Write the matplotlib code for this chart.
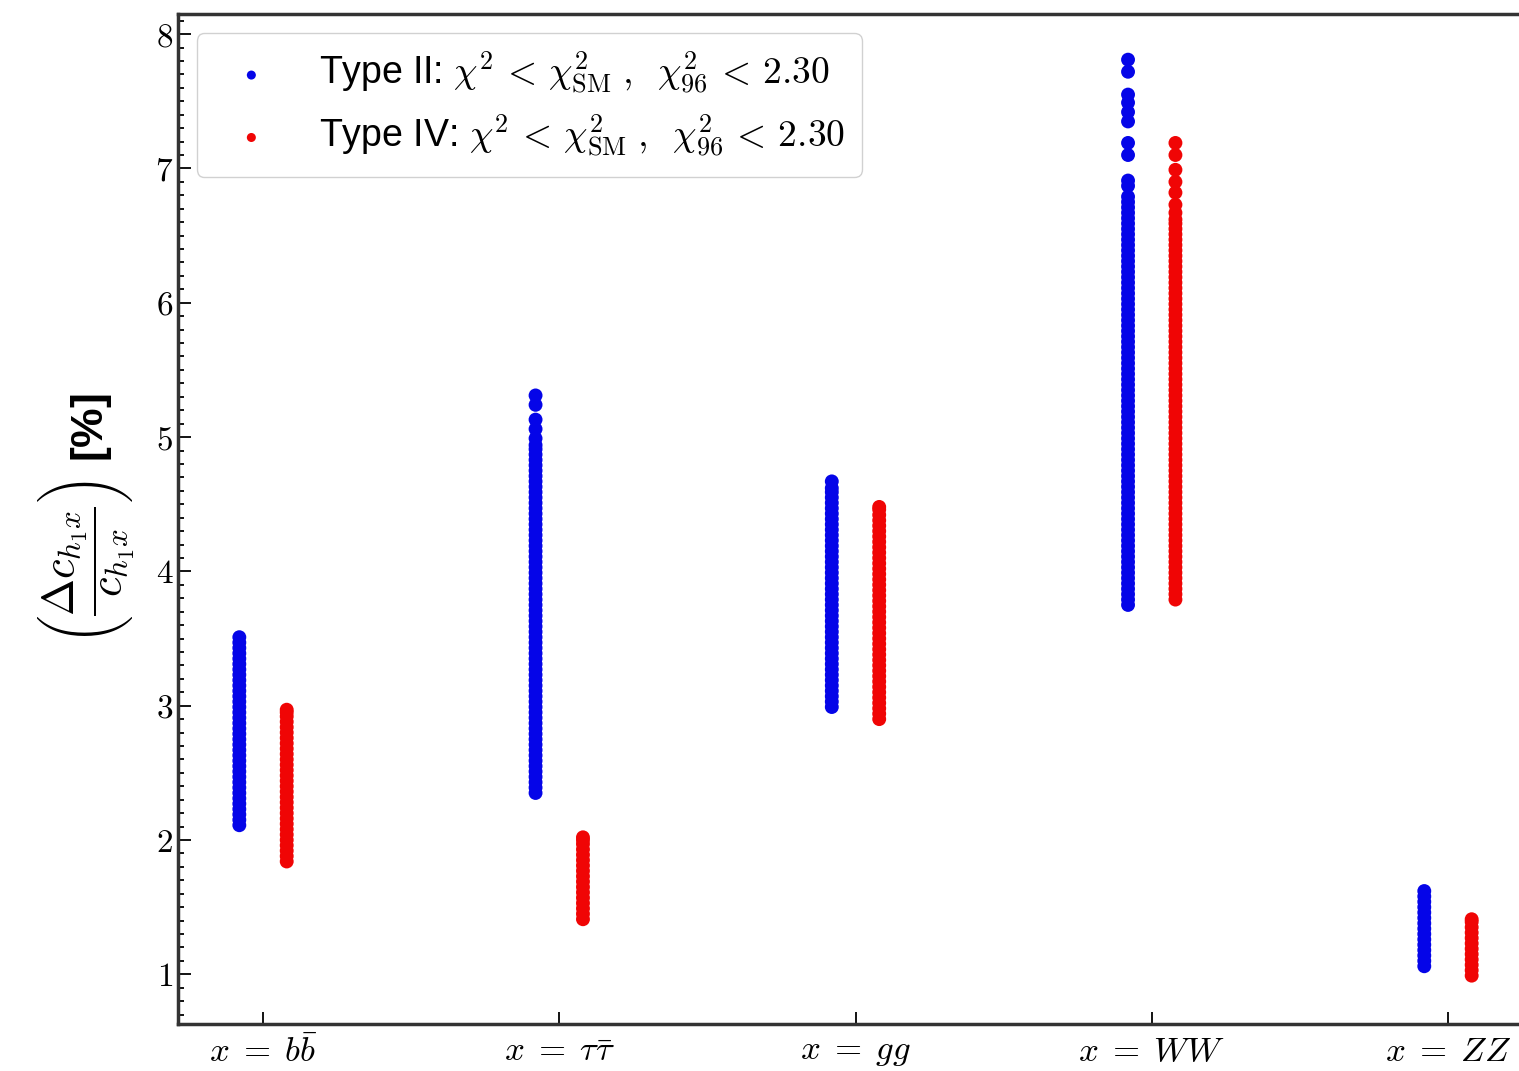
import matplotlib.pyplot as plt
from matplotlib.ticker import MultipleLocator

plt.rcParams['mathtext.fontset'] = 'cm'
plt.rcParams['font.family'] = ['Liberation Sans', 'DejaVu Sans']

# channels on the x axis
channels = [r'$x\;=\;b\bar{b}$', r'$x\;=\;\tau\bar{\tau}$', r'$x\;=\;gg$',
            r'$x\;=\;WW$', r'$x\;=\;ZZ$']

# Type II points, one list per channel
t2_bb = [2.11, 2.15, 2.19, 2.23, 2.27, 2.31, 2.35, 2.39, 2.43, 2.47, 2.51, 2.55, 2.59,
         2.63, 2.67, 2.71, 2.75, 2.79, 2.83, 2.87, 2.91, 2.95, 2.99, 3.03, 3.07, 3.11,
         3.15, 3.19, 3.23, 3.27, 3.31, 3.35, 3.39, 3.43, 3.47, 3.51]
t2_tautau = [2.35, 2.39, 2.43, 2.47, 2.51, 2.55, 2.59, 2.63, 2.67, 2.71, 2.75, 2.79, 2.83,
             2.87, 2.91, 2.95, 2.99, 3.03, 3.07, 3.11, 3.15, 3.19, 3.23, 3.27, 3.31, 3.35,
             3.39, 3.43, 3.47, 3.51, 3.55, 3.59, 3.63, 3.67, 3.71, 3.75, 3.79, 3.83, 3.87,
             3.91, 3.95, 3.99, 4.03, 4.07, 4.11, 4.15, 4.19, 4.23, 4.27, 4.31, 4.35, 4.39,
             4.43, 4.47, 4.51, 4.55, 4.59, 4.63, 4.67, 4.71, 4.75, 4.79, 4.83, 4.87, 4.91,
             4.94, 4.99, 5.06, 5.13, 5.24, 5.31]
t2_gg = [2.99, 3.03, 3.07, 3.11, 3.15, 3.19, 3.23, 3.27, 3.31, 3.35, 3.39, 3.43, 3.47,
         3.51, 3.55, 3.59, 3.63, 3.67, 3.71, 3.75, 3.79, 3.83, 3.87, 3.91, 3.95, 3.99,
         4.03, 4.07, 4.11, 4.15, 4.19, 4.23, 4.27, 4.31, 4.35, 4.39, 4.43, 4.47, 4.51,
         4.55, 4.59, 4.62, 4.67]
t2_ww = [3.75, 3.79, 3.83, 3.87, 3.91, 3.95, 3.99, 4.03, 4.07, 4.11, 4.15, 4.19, 4.23,
         4.27, 4.31, 4.35, 4.39, 4.43, 4.47, 4.51, 4.55, 4.59, 4.63, 4.67, 4.71, 4.75,
         4.79, 4.83, 4.87, 4.91, 4.95, 4.99, 5.03, 5.07, 5.11, 5.15, 5.19, 5.23, 5.27,
         5.31, 5.35, 5.39, 5.43, 5.47, 5.51, 5.55, 5.59, 5.63, 5.67, 5.71, 5.75, 5.79,
         5.83, 5.87, 5.91, 5.95, 5.99, 6.03, 6.07, 6.11, 6.15, 6.19, 6.23, 6.27, 6.31,
         6.35, 6.39, 6.43, 6.47, 6.51, 6.55, 6.59, 6.63, 6.67, 6.71, 6.75, 6.79, 6.87,
         6.91, 7.10, 7.19, 7.35, 7.42, 7.49, 7.55, 7.72, 7.81]
t2_zz = [1.06, 1.10, 1.14, 1.18, 1.22, 1.26, 1.30, 1.34, 1.38, 1.42, 1.46, 1.50, 1.54,
         1.58, 1.62]

# Type IV points, one list per channel
t4_bb = [1.84, 1.88, 1.92, 1.96, 2.00, 2.04, 2.08, 2.12, 2.16, 2.20, 2.24, 2.28, 2.32,
         2.36, 2.40, 2.44, 2.48, 2.52, 2.56, 2.60, 2.64, 2.68, 2.72, 2.76, 2.80, 2.84,
         2.88, 2.92, 2.95, 2.97]
t4_tautau = [1.41, 1.45, 1.49, 1.53, 1.57, 1.61, 1.65, 1.69, 1.73, 1.77, 1.81, 1.85, 1.89,
             1.93, 1.97, 2.00, 2.02]
t4_gg = [2.90, 2.94, 2.98, 3.02, 3.06, 3.10, 3.14, 3.18, 3.22, 3.26, 3.30, 3.34, 3.38,
         3.42, 3.46, 3.50, 3.54, 3.58, 3.62, 3.66, 3.70, 3.74, 3.78, 3.82, 3.86, 3.90,
         3.94, 3.98, 4.02, 4.06, 4.10, 4.14, 4.18, 4.22, 4.26, 4.30, 4.34, 4.38, 4.42,
         4.46, 4.48]
t4_ww = [3.79, 3.83, 3.87, 3.91, 3.95, 3.99, 4.03, 4.07, 4.11, 4.15, 4.19, 4.23, 4.27,
         4.31, 4.35, 4.39, 4.43, 4.47, 4.51, 4.55, 4.59, 4.63, 4.67, 4.71, 4.75, 4.79,
         4.83, 4.87, 4.91, 4.95, 4.99, 5.03, 5.07, 5.11, 5.15, 5.19, 5.23, 5.27, 5.31,
         5.35, 5.39, 5.43, 5.47, 5.51, 5.55, 5.59, 5.63, 5.67, 5.71, 5.75, 5.79, 5.83,
         5.87, 5.91, 5.95, 5.99, 6.03, 6.07, 6.11, 6.15, 6.19, 6.23, 6.27, 6.31, 6.35,
         6.39, 6.43, 6.47, 6.51, 6.55, 6.59, 6.62, 6.67, 6.73, 6.82, 6.90, 6.99, 7.10,
         7.19]
t4_zz = [0.99, 1.03, 1.07, 1.11, 1.15, 1.19, 1.23, 1.27, 1.31, 1.35, 1.39, 1.41]

type2 = [t2_bb, t2_tautau, t2_gg, t2_ww, t2_zz]
type4 = [t4_bb, t4_tautau, t4_gg, t4_ww, t4_zz]

yticks = [1, 2, 3, 4, 5, 6, 7, 8]

cut = r'$\chi^2 \,<\, \chi^2_{\mathrm{SM}}\;,\;\; \chi^2_{96} \,<\, 2.30$'

fig = plt.figure(figsize=(15.19, 10.71), dpi=100)
# axes runs slightly past the right edge of the canvas
ax = fig.add_axes([178 / 1519, 1 - 1024 / 1071, 1355 / 1519, 1010 / 1071])

shift = 0.08
for i, (v2, v4) in enumerate(zip(type2, type4)):
    ax.scatter([i - shift] * len(v2), v2, s=100, color='#0505e8', edgecolors='none',
               label='Type II: ' + cut if i == 0 else None)
    ax.scatter([i + shift] * len(v4), v4, s=100, color='#f00505', edgecolors='none',
               label='Type IV: ' + cut if i == 0 else None)

ax.set_xlim(-0.287, 4.287)
ax.set_ylim(0.63, 8.15)
ax.set_xticks(range(len(channels)), labels=channels, fontsize=25)
ax.set_yticks(yticks, labels=[f'${v}$' for v in yticks], fontsize=24)
ax.yaxis.set_minor_locator(MultipleLocator(0.1))

ax.tick_params(axis='y', which='both', direction='in', left=True, right=True, width=1.3)
ax.tick_params(axis='y', which='major', length=9)
ax.tick_params(axis='y', which='minor', length=4.5)
ax.tick_params(axis='x', which='major', direction='in', length=9, width=1.3,
               top=False, pad=8)
ax.tick_params(axis='x', which='minor', bottom=False, top=False)

for sp in ax.spines.values():
    sp.set_linewidth(2.5)
    sp.set_color('#333333')

ax.set_ylabel(r'$\left(\dfrac{\Delta c_{h_1 x}}{c_{h_1 x}}\right)$ [%]', fontsize=32,
              fontweight='bold', labelpad=14)

ax.legend(loc='upper left', bbox_to_anchor=(0.014, 0.981), borderaxespad=0,
          fontsize=27, markerscale=0.65, handletextpad=0.8, borderpad=0.45,
          labelspacing=0.4, framealpha=0.9, edgecolor='#cccccc')

fig.savefig('out.png', dpi=100)
